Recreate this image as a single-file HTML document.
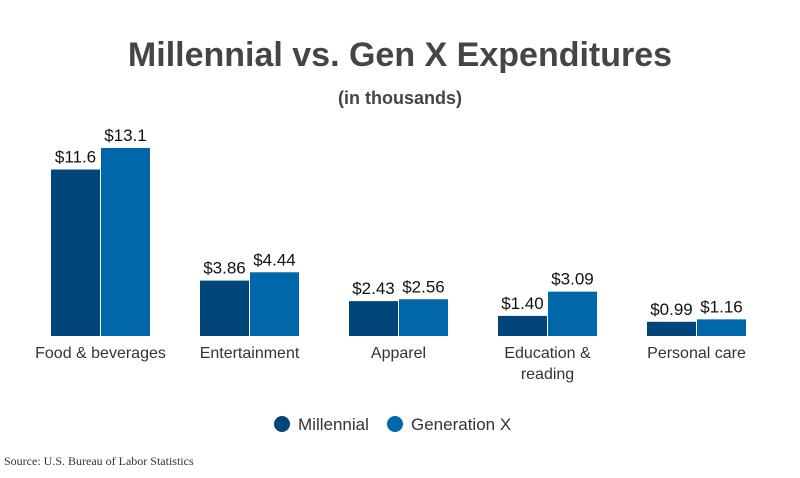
<!DOCTYPE html>
<html><head><meta charset="utf-8"><style>
body{margin:0;background:#fff;width:800px;height:473px;overflow:hidden;font-family:"Liberation Sans",sans-serif}
</style></head><body>
<svg width="800" height="473">
<text x="400" y="66" text-anchor="middle" font-size="34" font-weight="bold" fill="#454545">Millennial vs. Gen X Expenditures</text>
<text x="400" y="104" text-anchor="middle" font-size="18" font-weight="bold" fill="#454545">(in thousands)</text>
<g id="bars"></g>
<g>
<circle cx="282" cy="424" r="8" fill="#00467a"/>
<text x="298" y="430" font-size="17" fill="#333">Millennial</text>
<circle cx="395" cy="424" r="8" fill="#0067aa"/>
<text x="411" y="430" font-size="17" fill="#333">Generation X</text>
</g>
<text x="4" y="465" font-size="12" font-family="Liberation Serif,serif" fill="#333">Source: U.S. Bureau of Labor Statistics</text>
</svg>
<script>
const categories=[["Food & beverages"],["Entertainment"],["Apparel"],["Education &","reading"],["Personal care"]];
const millennial=[11.6,3.86,2.43,1.40,0.99];
const genx=[13.1,4.44,2.56,3.09,1.16];
const millLabels=["$11.6","$3.86","$2.43","$1.40","$0.99"];
const genxLabels=["$13.1","$4.44","$2.56","$3.09","$1.16"];
const NS="http://www.w3.org/2000/svg";
const g=document.getElementById('bars');
const base=336, scale=188/13.1, x0=51, step=149, bw=49;
const y=v=>base-v*scale;
function mk(t,a){const e=document.createElementNS(NS,t);for(const k in a)e.setAttribute(k,a[k]);g.appendChild(e);return e;}
categories.forEach((c,i)=>{
  const xs=[x0+i*step,x0+i*step+50];
  [[millennial,millLabels,"#00467a","millennial"],[genx,genxLabels,"#0067aa","genx"]].forEach((s,j)=>{
    const v=s[0][i];
    const r=mk('rect',{x:xs[j],y:y(v),width:bw,height:base-y(v),fill:s[2]});
    
    
    const t=mk('text',{x:xs[j]+bw/2,y:y(v)-7,'text-anchor':'middle','font-size':17,fill:'#111'});
    t.textContent=s[1][i];
    
    
  });
  c.forEach((line,k)=>{
    const t=mk('text',{x:x0+i*step+49.5,y:358+k*21,'text-anchor':'middle','font-size':16,fill:'#333'});
    t.textContent=line;
    
    
  });
});
</script>
</body></html>
